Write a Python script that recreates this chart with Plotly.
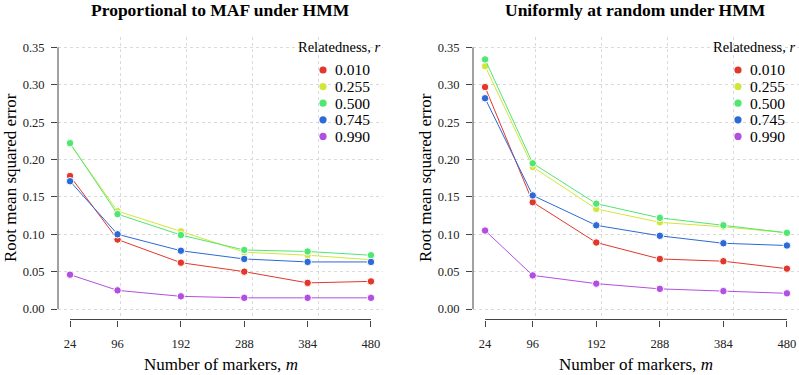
import plotly.graph_objects as go

# ---------------- data ----------------
markers = [24, 96, 192, 288, 384, 480]
relatedness = ["0.010", "0.255", "0.500", "0.745", "0.990"]
colors = ["#E2382C", "#D2E639", "#4FE672", "#2C6AD6", "#B24FE0"]

maf_r010 = [0.178, 0.093, 0.062, 0.050, 0.035, 0.037]
maf_r255 = [0.221, 0.131, 0.104, 0.076, 0.072, 0.066]
maf_r500 = [0.222, 0.127, 0.099, 0.079, 0.077, 0.072]
maf_r745 = [0.171, 0.100, 0.078, 0.067, 0.063, 0.063]
maf_r990 = [0.046, 0.025, 0.017, 0.015, 0.015, 0.015]

unif_r010 = [0.297, 0.143, 0.089, 0.067, 0.064, 0.054]
unif_r255 = [0.325, 0.190, 0.134, 0.116, 0.110, 0.102]
unif_r500 = [0.334, 0.195, 0.141, 0.122, 0.112, 0.102]
unif_r745 = [0.282, 0.152, 0.112, 0.098, 0.088, 0.085]
unif_r990 = [0.105, 0.045, 0.034, 0.027, 0.024, 0.021]

y_ticks = [0.00, 0.05, 0.10, 0.15, 0.20, 0.25, 0.30, 0.35]
x_grid = [100, 200, 300, 400]

panel_titles = ["Proportional to MAF under HMM", "Uniformly at random under HMM"]
panel_series = [
    [maf_r010, maf_r255, maf_r500, maf_r745, maf_r990],
    [unif_r010, unif_r255, unif_r500, unif_r745, unif_r990],
]

# ---------------- layout geometry ----------------
W, H = 799, 375
FONT = "Liberation Serif"
panel_left_px = [58, 473]
panel_right_px = [383, 799]
top_px, bottom_px = 37, 319.5

fig = go.Figure()

for p, series in enumerate(panel_series):
    xa = "x" if p == 0 else "x2"
    ya = "y" if p == 0 else "y2"
    for vals, col in zip(series, colors):
        fig.add_trace(go.Scatter(
            x=markers, y=vals, mode="lines+markers",
            line=dict(color=col, width=1),
            marker=dict(color=col, size=7.5, line=dict(color="white", width=1)),
            xaxis=xa, yaxis=ya, showlegend=False, hoverinfo="skip",
        ))

xr = [24 - 0.04 * 456, 480 + 0.04 * 456]
yr = [-0.04 * 0.35, 0.35 * 1.04]

GRID = "#DADADA"
axis_common_x = dict(
    range=xr, tickvals=markers, ticktext=[str(m) for m in markers],
    ticks="outside", ticklen=6, tickwidth=1, tickcolor="#444",
    showline=False, zeroline=False, showgrid=False,
    tickfont=dict(family=FONT, size=12.5, color="#222"),
    minor=dict(tickvals=x_grid, showgrid=True, gridcolor=GRID,
               griddash="dot", gridwidth=1, ticks=""),
    ticklabelstandoff=6,
)
axis_common_y = dict(
    range=yr, tickvals=y_ticks, tickformat=".2f",
    ticks="outside", ticklen=6, tickwidth=1, tickcolor="#444",
    showline=False, zeroline=False, showgrid=True,
    gridcolor=GRID, griddash="dot", gridwidth=1,
    tickfont=dict(family=FONT, size=12.5, color="#222"),
    ticklabelstandoff=4,
)

ydom = [(H - bottom_px) / H, 1 - top_px / H]
fig.update_layout(
    width=W, height=H,
    margin=dict(l=0, r=0, t=0, b=0),
    paper_bgcolor="white", plot_bgcolor="white",
    xaxis=dict(domain=[panel_left_px[0] / W, panel_right_px[0] / W], anchor="y", **axis_common_x),
    yaxis=dict(domain=ydom, anchor="x", **axis_common_y),
    xaxis2=dict(domain=[panel_left_px[1] / W, min(1.0, panel_right_px[1] / W)], anchor="y2", **axis_common_x),
    yaxis2=dict(domain=ydom, anchor="x2", **axis_common_y),
    showlegend=False,
)

shapes = []
annotations = []
for p in range(2):
    xa = "x" if p == 0 else "x2"
    ya = "y" if p == 0 else "y2"
    L = panel_left_px[p]
    shapes.append(dict(type="line", xref=xa, yref=ya + " domain", x0=markers[0], x1=markers[-1],
                       y0=0, y1=0, line=dict(color="#444", width=1)))
    shapes.append(dict(type="line", xref=xa + " domain", yref=ya, x0=0, x1=0,
                       y0=y_ticks[0], y1=y_ticks[-1], line=dict(color="#444", width=1)))
    annotations.append(dict(text="<b>" + panel_titles[p] + "</b>", xref="paper", yref="paper",
                            x=(L + 162.5) / W,
                            y=1 - 10 / H, xanchor="center", yanchor="middle", showarrow=False,
                            font=dict(family=FONT, size=17.5, color="black")))
    annotations.append(dict(text="Root mean squared error", xref="paper", yref="paper",
                            x=(L - 48) / W, y=1 - 178 / H, textangle=-90,
                            xanchor="center", yanchor="middle", showarrow=False,
                            font=dict(family=FONT, size=17, color="black")))
    annotations.append(dict(text="Number of markers, <i>m</i>", xref="paper", yref="paper",
                            x=(L + 163) / W, y=1 - 364 / H,
                            xanchor="center", yanchor="middle", showarrow=False,
                            font=dict(family=FONT, size=17, color="black")))
    annotations.append(dict(text="Relatedness, <i>r</i>", xref="paper", yref="paper",
                            x=(L + 325) / W, y=1 - 47 / H,
                            xanchor="right", yanchor="middle", showarrow=False,
                            font=dict(family=FONT, size=14.5, color="black")))
    for i, (lab, col) in enumerate(zip(relatedness, colors)):
        cy = 70 + i * 16.6
        cx = L + 265
        rad = 3.6
        shapes.append(dict(type="circle", xref="paper", yref="paper",
                           x0=(cx - rad) / W, x1=(cx + rad) / W,
                           y0=1 - (cy + rad) / H, y1=1 - (cy - rad) / H,
                           fillcolor=col, line=dict(color=col, width=0)))
        annotations.append(dict(text=lab, xref="paper", yref="paper",
                                x=(L + 275) / W, y=1 - cy / H,
                                xanchor="left", yanchor="middle", showarrow=False,
                                font=dict(family=FONT, size=15.5, color="black")))

fig.update_layout(shapes=shapes, annotations=annotations)
fig.write_html("out.html", config={"displayModeBar": False},
               post_script="document.body.style.margin='0';document.body.style.overflow='hidden';")
